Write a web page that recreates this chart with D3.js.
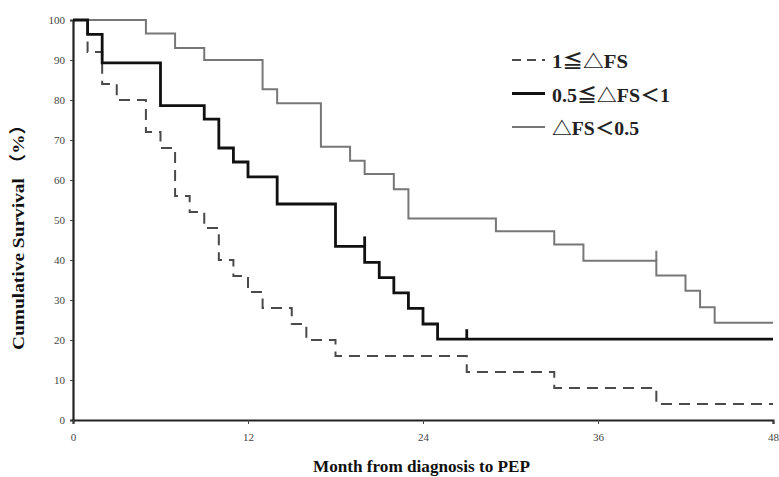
<!DOCTYPE html>
<html><head><meta charset="utf-8">
<script src="https://cdn.jsdelivr.net/npm/d3@7"></script>
<style>
html,body{margin:0;padding:0;background:#fff;}
svg{display:block;}
text{font-family:"Liberation Serif","Noto Sans CJK SC",serif;}
</style></head>
<body>
<svg id="chart" width="779" height="477"></svg>
<script>
// Data
const xTicks = [0, 12, 24, 36, 48];
const yTicks = [0, 10, 20, 30, 40, 50, 60, 70, 80, 90, 100];

const monthsHigh = [0, 1, 2, 3, 5, 6, 7, 8, 9, 10, 11, 12, 13, 15, 16, 18, 27, 33, 40, 48];
const survHigh   = [100, 92, 84, 80, 72, 68, 56, 52, 48, 40, 36, 32, 28, 24, 20, 16, 12, 8, 4, 4];

const monthsMid = [0, 1, 2, 6, 9, 10, 11, 12, 14, 18, 20, 21, 22, 23, 24, 25, 48];
const survMid   = [100, 96.4, 89.3, 78.6, 75.2, 68.0, 64.5, 60.8, 54.0, 43.4, 39.4, 35.6, 31.8, 27.9, 24.0, 20.2, 20.2];
const censorMidMonths = [20, 27];
const censorMidSurv   = [43.4, 20.2];

const monthsLow = [0, 5, 7, 9, 13, 14, 17, 19, 20, 22, 23, 29, 33, 35, 40, 42, 43, 44, 48];
const survLow   = [100, 96.6, 93.0, 90.0, 82.7, 79.2, 68.3, 64.8, 61.5, 57.7, 50.4, 47.2, 43.9, 39.8, 36.1, 32.3, 28.2, 24.3, 24.3];
const censorLowMonths = [40];
const censorLowSurv   = [39.8];

const legendLabels = ["1≦△FS", "0.5≦△FS＜1", "△FS＜0.5"];

const svg = d3.select("#chart");
const x = d3.scaleLinear().domain([0, 48]).range([73, 773]);
const y = d3.scaleLinear().domain([0, 100]).range([420, 20]);

const styles = [
  {stroke: "#4a4a4a", width: 2, dash: "11,7"},
  {stroke: "#111", width: 2.8, dash: null},
  {stroke: "#777", width: 2, dash: null}
];

// axes
const yAxis = d3.axisLeft(y).tickValues(yTicks).tickSize(3).tickPadding(5);
const gy = svg.append("g").attr("transform", `translate(${x(0)},0)`).call(yAxis);
gy.select(".domain").attr("stroke", "#222").attr("stroke-width", 2.2);
gy.selectAll(".tick line").attr("stroke", "#444");
gy.selectAll(".tick text").attr("font-size", 11).attr("fill", "#444")
  .style("font-family", "'Liberation Serif',serif");

const xAxis = d3.axisBottom(x).tickValues(xTicks).tickSize(4).tickPadding(9);
const gx = svg.append("g").attr("transform", `translate(0,${y(0)})`).call(xAxis);
gx.select(".domain").attr("stroke", "#222").attr("stroke-width", 2.2);
gx.selectAll(".tick line").attr("stroke", "#444");
gx.selectAll(".tick text").attr("font-size", 11).attr("fill", "#444")
  .style("font-family", "'Liberation Serif',serif");

// curves
const line = d3.line().x(d => x(d[0])).y(d => y(d[1])).curve(d3.curveStepAfter);
const series = [
  d3.zip(monthsHigh, survHigh),
  d3.zip(monthsMid, survMid),
  d3.zip(monthsLow, survLow)
];
const drawOrder = [2, 0, 1];
drawOrder.forEach(i => {
  svg.append("path").datum(series[i]).attr("d", line)
    .attr("fill", "none").attr("stroke", styles[i].stroke)
    .attr("stroke-width", styles[i].width)
    .attr("stroke-dasharray", styles[i].dash);
});

// censor ticks
function censor(months, surv, st) {
  svg.append("g").selectAll("line").data(d3.zip(months, surv)).join("line")
    .attr("x1", d => x(d[0])).attr("x2", d => x(d[0]))
    .attr("y1", d => y(d[1])).attr("y2", d => y(d[1]) - 10)
    .attr("stroke", st.stroke).attr("stroke-width", st.width);
}
censor(censorMidMonths, censorMidSurv, styles[1]);
censor(censorLowMonths, censorLowSurv, styles[2]);

// legend
const legendWidths = [76, 118, 87];
const legend = svg.append("g");
legendLabels.forEach((lab, i) => {
  const ly = 60 + i * 33.5;
  legend.append("line").attr("x1", 512).attr("x2", 545).attr("y1", ly).attr("y2", ly)
    .attr("stroke", styles[i].stroke).attr("stroke-width", styles[i].width)
    .attr("stroke-dasharray", styles[i].dash ? "9,6" : null);
  legend.append("text").attr("x", 552).attr("y", ly + 8).text(lab)
    .attr("font-size", 18).attr("font-weight", "bold").attr("fill", "#222")
    .attr("textLength", legendWidths[i]).attr("lengthAdjust", "spacingAndGlyphs");
});

// axis titles
svg.append("text").attr("x", 313).attr("y", 472)
  .attr("font-size", 16).attr("font-weight", "bold").attr("fill", "#111")
  .attr("textLength", 217).attr("lengthAdjust", "spacingAndGlyphs")
  .text("Month from diagnosis to PEP");
svg.append("text").attr("transform", "translate(24,350) rotate(-90)")
  .attr("font-size", 17).attr("font-weight", "bold").attr("fill", "#111")
  .attr("textLength", 235).attr("lengthAdjust", "spacingAndGlyphs")
  .text("Cumulative Survival （%）");
</script>
</body></html>
